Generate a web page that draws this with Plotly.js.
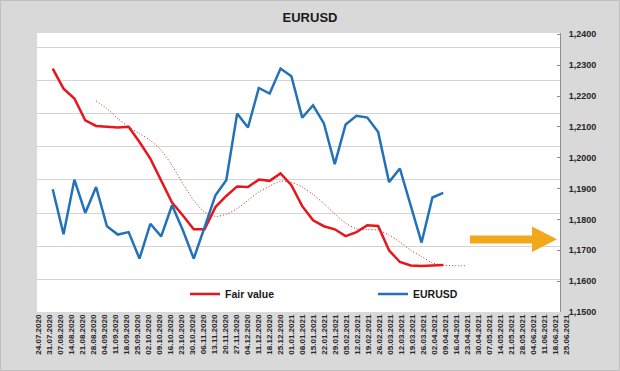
<!DOCTYPE html>
<html>
<head>
<meta charset="utf-8">
<script src="https://cdn.plot.ly/plotly-3.0.1.min.js"></script>
<style>html,body{margin:0;padding:0;background:#d9d9d9;}#chart{width:620px;height:371px;}</style>
</head>
<body>
<div id="chart"></div>
<script>
// ---- data ----
const weeks = ['24.07.2020','31.07.2020','07.08.2020','14.08.2020','21.08.2020','28.08.2020','04.09.2020','11.09.2020','18.09.2020','25.09.2020','02.10.2020','09.10.2020','16.10.2020','23.10.2020','30.10.2020','06.11.2020','13.11.2020','20.11.2020','27.11.2020','04.12.2020','11.12.2020','18.12.2020','25.12.2020','01.01.2021','08.01.2021','15.01.2021','22.01.2021','29.01.2021','05.02.2021','12.02.2021','19.02.2021','26.02.2021','05.03.2021','12.03.2021','19.03.2021','26.03.2021','02.04.2021','09.04.2021','16.04.2021','23.04.2021','30.04.2021','07.05.2021','14.05.2021','21.05.2021','28.05.2021','04.06.2021','11.06.2021','18.06.2021','25.06.2021'];

const seriesWeeks = weeks.slice(1, 38);   // 31.07.2020 .. 09.04.2021
const trendWeeks  = weeks.slice(5, 40);   // 28.08.2020 .. 23.04.2021

const fairValue = [1.2289,1.2224,1.2192,1.2121,1.2103,1.2100,1.2098,1.2100,1.2051,1.1997,1.1927,1.1855,1.1813,1.1768,1.1768,1.1840,1.1876,1.1907,1.1905,1.1929,1.1925,1.1949,1.1911,1.1843,1.1797,1.1778,1.1768,1.1746,1.1759,1.1781,1.1779,1.1700,1.1662,1.1651,1.1649,1.1651,1.1652];

const eurusd = [1.1898,1.1752,1.1929,1.1821,1.1905,1.1778,1.1751,1.1759,1.1673,1.1786,1.1745,1.1846,1.1765,1.1673,1.1775,1.1878,1.1927,1.2143,1.2098,1.2226,1.2208,1.2289,1.2264,1.2130,1.2170,1.2111,1.1979,1.2108,1.2136,1.2130,1.2083,1.1921,1.1965,1.1847,1.1725,1.1871,1.1886];

const fairTrend = [1.2184,1.2159,1.2127,1.2100,1.2078,1.2056,1.2024,1.1975,1.1916,1.1862,1.1824,1.1810,1.1817,1.1835,1.1862,1.1889,1.1908,1.1924,1.1920,1.1905,1.1881,1.1851,1.1818,1.1788,1.1770,1.1767,1.1765,1.1749,1.1727,1.1700,1.1680,1.1659,1.1652,1.1650,1.1650];

const yTicks = [1.15,1.16,1.17,1.18,1.19,1.20,1.21,1.22,1.23,1.24];

// ---- layout geometry ----
const W = 620, H = 371;
const L = 37, R = 40, T = 33, B = 59;
const pw = W - L - R, ph = H - T - B;
const dataRight = 560;
const dataDomainEnd = (dataRight - L) / pw;
const px = v => (v - L) / pw;
const py = v => (H - B - v) / ph;
const pxPerUnit = 3085.6;              // vertical scale of the labelled axis
const yRange = [1.15, 1.15 + ph / pxPerUnit];
const xRange = [-0.447, 47.76];
// the chart's gridlines are spaced ~33.1 px apart and do not sit on the labelled ticks;
// offsets are snapped to pixel centres so the 1px lines stay crisp
const gridVals = [];
for (let k = 1; k * 33.13 < ph - 2; k++) gridVals.push(yRange[0] + (Math.round(k * 33.13) - 0.5) / pxPerUnit);

const font = 'Liberation Sans, Arial, sans-serif';
const weekIdx = weeks.map((w, i) => i);

const traces = [
  {x: [weeks[0]], y: [null], type: 'scatter', mode: 'lines', xaxis: 'x', yaxis: 'y',
   showlegend: false, hoverinfo: 'skip'},
  {x: weekIdx, y: weekIdx.map(() => null), type: 'scatter', mode: 'lines', xaxis: 'x2', yaxis: 'y3',
   showlegend: false, hoverinfo: 'skip'},
  {x: seriesWeeks, y: fairValue, type: 'scatter', mode: 'lines', name: 'Fair value',
   line: {color: '#e8161b', width: 2.5}, xaxis: 'x', yaxis: 'y2', legend: 'legend'},
  {x: seriesWeeks, y: eurusd, type: 'scatter', mode: 'lines', name: 'EURUSD',
   line: {color: '#2272b9', width: 2.5}, xaxis: 'x', yaxis: 'y2', legend: 'legend2'},
  {x: trendWeeks, y: fairTrend, type: 'scatter', mode: 'lines', name: 'trend',
   line: {color: '#c0282d', width: 1, dash: '1px,2px', shape: 'spline', smoothing: 0.8},
   xaxis: 'x', yaxis: 'y2', showlegend: false}
];

const arrowPts = [[470,235.5],[532,235.5],[532,226.5],[557,239.3],[532,252],[532,243.5],[470,243.5]];
const arrowPath = 'M' + arrowPts.map(p => px(p[0]) + ',' + py(p[1])).join(' L') + ' Z';

// gridlines drawn between the white plot area and the traces
const gridShapes = gridVals.map(v => ({type: 'line', xref: 'x', yref: 'y', x0: xRange[0], x1: xRange[1],
  y0: v, y1: v, line: {color: '#d4d4d4', width: 1}, layer: 'between'}));

const layout = {
  width: W, height: H,
  margin: {l: L, r: R, t: T, b: B, pad: 0},
  paper_bgcolor: '#d9d9d9',
  plot_bgcolor: 'rgba(0,0,0,0)',
  separators: ', ',
  font: {family: font, color: '#262626'},
  title: {text: '<b>EURUSD</b>', font: {family: font, size: 13, color: '#1a1a1a'},
          x: 0.5, xref: 'container', xanchor: 'center', y: 1 - 17/H, yref: 'container', yanchor: 'middle'},
  xaxis: {type: 'category', categoryorder: 'array', categoryarray: weeks,
          domain: [0, dataDomainEnd], range: xRange,
          showticklabels: false, showgrid: false, zeroline: false, showline: false, ticks: '', anchor: 'y'},
  yaxis: {range: yRange, anchor: 'x', side: 'left', tickmode: 'array', tickvals: gridVals,
          showticklabels: false, ticks: '', showgrid: false, zeroline: false, showline: false},
  yaxis2: {overlaying: 'y', anchor: 'x', side: 'right', range: yRange,
          tickmode: 'array', tickvals: yTicks, tickformat: '.4f',
          tickfont: {family: font, size: 9, color: '#262626', weight: 'bold'},
          ticks: 'inside', ticklen: 3, tickcolor: '#8c8c8c',
          showline: true, linecolor: '#8c8c8c', linewidth: 1,
          showgrid: false, zeroline: false, ticklabelstandoff: 6},
  xaxis2: {type: 'linear', domain: [0, 1], range: [-0.118, 49.24], anchor: 'y3',
           tickmode: 'array', tickvals: weekIdx, ticktext: weeks,
           tickangle: -90, tickfont: {family: font, size: 8, color: '#262626', weight: 'bold'},
           showgrid: false, zeroline: false, showline: false, ticks: ''},
  yaxis3: {domain: [0, 1], range: [0, 1], anchor: 'x2', visible: false, showgrid: false, zeroline: false},
  legend: {x: px(185), xanchor: 'left', y: py(294), yanchor: 'middle', orientation: 'h',
           bgcolor: 'rgba(0,0,0,0)', font: {family: font, size: 10.5, color: '#1a1a1a', weight: 'bold'}},
  legend2: {x: px(373), xanchor: 'left', y: py(294), yanchor: 'middle', orientation: 'h',
           bgcolor: 'rgba(0,0,0,0)', font: {family: font, size: 10.5, color: '#1a1a1a', weight: 'bold'}},
  shapes: [
    {type: 'rect', xref: 'paper', yref: 'paper', x0: 0, x1: dataDomainEnd, y0: 0, y1: 1,
     fillcolor: '#ffffff', line: {width: 0}, layer: 'below'},
    ...gridShapes,
    {type: 'rect', xref: 'paper', yref: 'paper', x0: px(0.5), x1: px(619.5), y0: py(370.5), y1: py(0.5),
     fillcolor: 'rgba(0,0,0,0)', line: {width: 1, color: '#bfbfbf'}, layer: 'below'},
    {type: 'path', xref: 'paper', yref: 'paper', path: arrowPath,
     fillcolor: '#f3a81c', line: {width: 0}, layer: 'above'}
  ],
  showlegend: true
};

Plotly.newPlot('chart', traces, layout, {staticPlot: true, displayModeBar: false});
</script>
</body>
</html>
